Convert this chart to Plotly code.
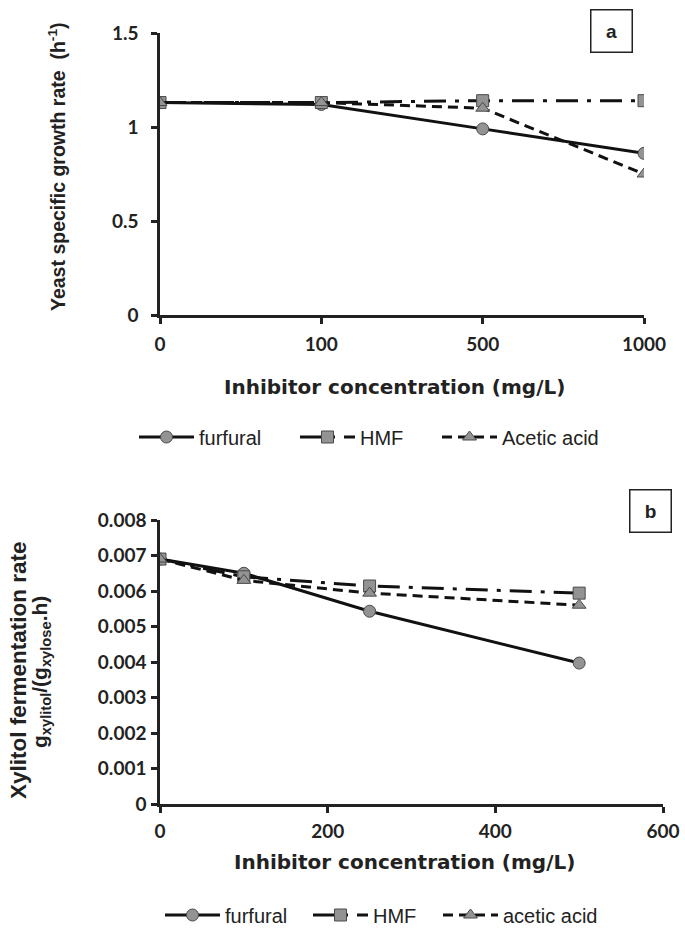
import plotly.graph_objects as go

# panel a: growth rate vs inhibitor concentration (categorical axis)
conc_a = ["0", "100", "500", "1000"]
furfural_a = [1.13, 1.12, 0.99, 0.86]
hmf_a = [1.13, 1.13, 1.14, 1.14]
acetic_a = [1.13, 1.13, 1.10, 0.75]

# panel b: xylitol fermentation rate vs inhibitor concentration
conc_b = [0, 100, 250, 500]
furfural_b = [0.0069, 0.0065, 0.00543, 0.00397]
hmf_b = [0.0069, 0.0064, 0.00614, 0.00594]
acetic_b = [0.0069, 0.0063, 0.00594, 0.0056]

names_a = ["furfural", "HMF", "Acetic acid"]
names_b = ["furfural", "HMF", "acetic acid"]

W, H = 685, 933


def px(x):
    return x / W


def py(y):
    return 1 - y / H


GREY = "#939393"
EDGE = "#4a4a4a"
INK = "#222"
TICKFONT = dict(family="Lato", size=19, color=INK, weight="bold")
TITLEFONT = dict(family="Liberation Sans", size=19, color=INK, weight="bold")
LEGFONT = dict(family="Liberation Sans", size=20, color=INK)

styles = [
    ("solid", "circle"),
    ("22px,9px,4px,9px", "square"),
    ("10px,6px", "triangle-up"),
]

fig = go.Figure()

panels = [
    (conc_a, names_a, [furfural_a, hmf_a, acetic_a], "x", "y", ["legend", "legend2", "legend3"]),
    (conc_b, names_b, [furfural_b, hmf_b, acetic_b], "x2", "y2", ["legend4", "legend5", "legend6"]),
]
for xs, names, series, xa, ya, legs in panels:
    for (dash, sym), name, ys, leg in zip(styles, names, series, legs):
        fig.add_trace(go.Scatter(
            x=xs, y=ys, name=name, mode="lines+markers",
            line=dict(color="#111", width=3, dash=dash),
            marker=dict(symbol=sym, size=12, color=GREY, line=dict(color=EDGE, width=1)),
            xaxis=xa, yaxis=ya, legend=leg,
        ))

axis_common = dict(
    showline=True, linecolor=INK, linewidth=2.5, showgrid=False, zeroline=False,
    ticks="outside", ticklen=6, tickwidth=2.5, tickcolor=INK, tickfont=TICKFONT,
    automargin=False,
)

legend_common = dict(
    orientation="h", xanchor="left", yanchor="middle", font=LEGFONT,
    itemwidth=55, bgcolor="rgba(0,0,0,0)",
)
# left end of each legend sample line (px) and row centre
leg_pos = {
    "legend": (139, 437), "legend2": (300, 437), "legend3": (442, 437),
    "legend4": (165, 915), "legend5": (313, 915), "legend6": (443, 915),
}
legends = {k: dict(legend_common, x=px(x - 5), y=py(y)) for k, (x, y) in leg_pos.items()}

fig.update_layout(
    template="simple_white",
    width=W, height=H,
    margin=dict(l=0, r=0, t=0, b=0, autoexpand=False),
    paper_bgcolor="white", plot_bgcolor="white",
    showlegend=True,
    xaxis=dict(**axis_common, ticklabelstandoff=4, domain=[px(160), px(644)], anchor="y",
               type="category", range=[0, 3]),
    yaxis=dict(**axis_common, ticklabelstandoff=9, domain=[py(315), py(33)], anchor="x",
               range=[0, 1.5], tickvals=[0, 0.5, 1, 1.5], ticktext=["0", "0.5", "1", "1.5"]),
    xaxis2=dict(**axis_common, ticklabelstandoff=2, domain=[px(160), px(663)], anchor="y2",
                range=[0, 600], tickvals=[0, 200, 400, 600]),
    yaxis2=dict(**axis_common, ticklabelstandoff=1, domain=[py(804), py(520)], anchor="x2",
                range=[0, 0.008],
                tickvals=[0, 0.001, 0.002, 0.003, 0.004, 0.005, 0.006, 0.007, 0.008],
                ticktext=["0", "0.001", "0.002", "0.003", "0.004", "0.005", "0.006", "0.007", "0.008"]),
    **legends,
)

title_kw = dict(xref="paper", yref="paper", showarrow=False,
                xanchor="center", yanchor="middle")
xtitle_font = dict(family="DejaVu Sans", size=20, color=INK, weight="bold")
fig.add_annotation(text="Inhibitor concentration (mg/L)", x=px(394), y=py(387),
                   font=xtitle_font, **title_kw)
fig.add_annotation(text="Inhibitor concentration (mg/L)", x=px(404), y=py(862),
                   font=xtitle_font, **title_kw)
fig.add_annotation(text="Yeast specific growth rate  (h<sup>-1</sup>)", x=px(57), y=py(167),
                   textangle=-90, font=dict(TITLEFONT, size=19.5), **title_kw)
fig.add_annotation(text="Xylitol fermentation rate", x=px(18), y=py(670),
                   textangle=-90, font=dict(TITLEFONT, size=22.5), **title_kw)
fig.add_annotation(text="g<sub>xylitol</sub>/(g<sub>xylose</sub>.h)", x=px(41), y=py(672),
                   textangle=-90, font=dict(TITLEFONT, size=21), **title_kw)

box_kw = dict(xref="paper", yref="paper", showarrow=False, bgcolor="white",
              xanchor="center", yanchor="middle",
              bordercolor=INK, borderwidth=1.5, width=38, height=39,
              font=dict(family="Liberation Sans", size=19, color=INK, weight="bold"))
fig.add_annotation(text="a", x=px(611), y=py(31), **box_kw)
fig.add_annotation(text="b", x=px(650), y=py(511), **box_kw)

# drop the default page margin so the figure fills the window exactly
fig.write_html(
    "out.html",
    config={"displayModeBar": False},
    post_script="document.body.style.margin='0';document.body.style.overflow='hidden';",
)
